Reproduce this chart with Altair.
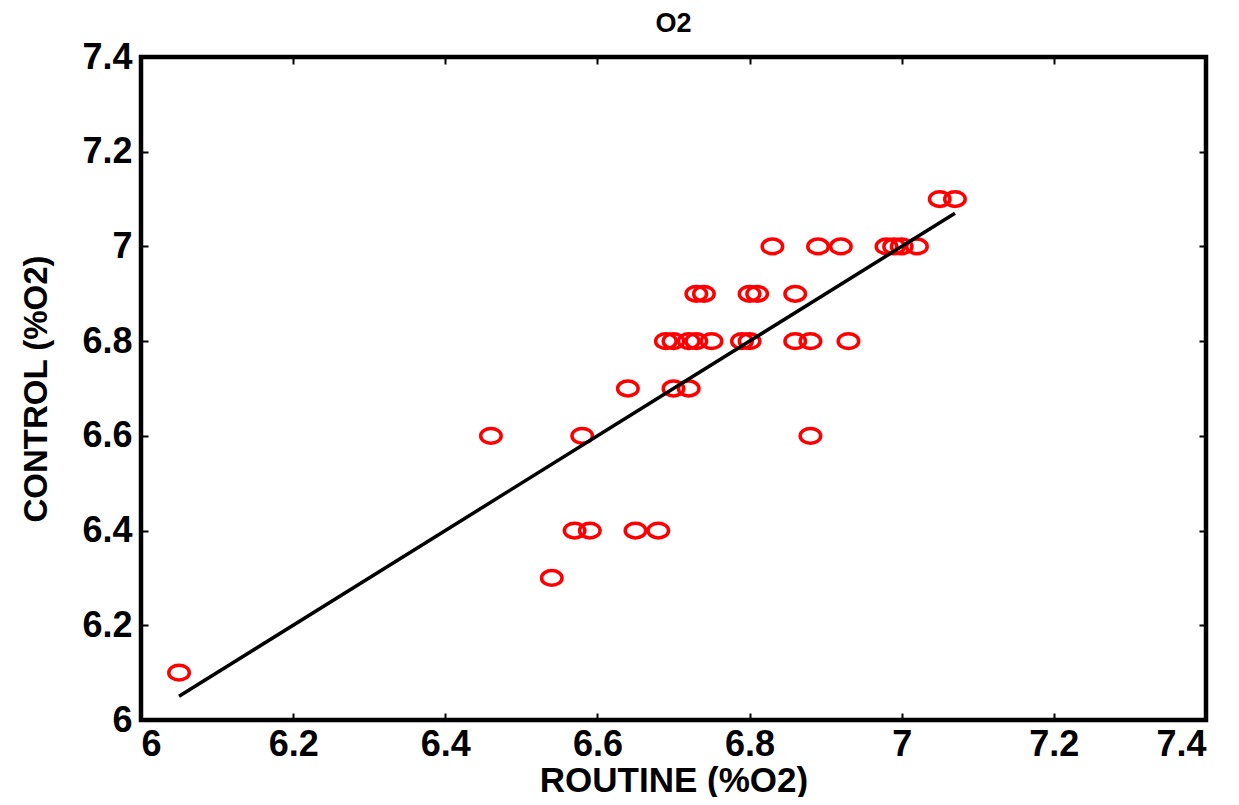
import altair as alt
import pandas as pd

# Data
routine = [6.05,
           6.46, 6.58, 6.88,
           6.54,
           6.57, 6.59, 6.65, 6.68,
           6.64, 6.70, 6.72,
           6.69, 6.70, 6.72, 6.73, 6.75, 6.79, 6.80, 6.86, 6.88, 6.93,
           6.73, 6.74, 6.80, 6.81, 6.86,
           6.83, 6.89, 6.92, 6.98, 6.99, 7.00, 7.02,
           7.05, 7.07]
control = [6.1,
           6.6, 6.6, 6.6,
           6.3,
           6.4, 6.4, 6.4, 6.4,
           6.7, 6.7, 6.7,
           6.8, 6.8, 6.8, 6.8, 6.8, 6.8, 6.8, 6.8, 6.8, 6.8,
           6.9, 6.9, 6.9, 6.9, 6.9,
           7.0, 7.0, 7.0, 7.0, 7.0, 7.0, 7.0,
           7.1, 7.1]
fit_x = [6.05, 7.07]
fit_y = [6.05, 7.07]
tick_vals = [6.0, 6.2, 6.4, 6.6, 6.8, 7.0, 7.2, 7.4]

pts = pd.DataFrame({"routine": routine, "control": control})
fit = pd.DataFrame({"x": fit_x, "y": fit_y})

FONT = "Liberation Sans"
xs = alt.Scale(domain=[6, 7.4], nice=False, zero=False)
ys = alt.Scale(domain=[6, 7.4], nice=False, zero=False)

common = dict(offset=-7, tickSize=7, tickWidth=2, tickColor="black", domain=False,
              grid=False, values=tick_vals, format="~g")

bottom_axis = alt.Axis(orient="bottom", title="ROUTINE (%O2)", labelFont=FONT,
                       labelFontSize=36, labelFontWeight="bold", labelColor="black",
                       labelPadding=7, titleFont=FONT, titleFontSize=35,
                       titleFontWeight="bold", titleColor="black", titlePadding=1,
                       **common)
left_axis = alt.Axis(orient="left", title="CONTROL (%O2)", labelFont=FONT,
                     labelFontSize=36, labelFontWeight="bold", labelColor="black",
                     labelPadding=9, titleFont=FONT, titleFontSize=33,
                     titleFontWeight="bold", titleColor="black", titlePadding=28,
                     **common)
top_axis = alt.Axis(orient="top", title=None, labels=False, **common)
right_axis = alt.Axis(orient="right", title=None, labels=False, **common)

ellipse = "M-1,0 A1,0.72 0 1,1 1,0 A1,0.72 0 1,1 -1,0 Z"

points = alt.Chart(pts).mark_point(
    shape=ellipse, size=420, strokeWidth=3.5, color="red", filled=False, opacity=1
).encode(
    x=alt.X("routine:Q", scale=xs, axis=bottom_axis),
    y=alt.Y("control:Q", scale=ys, axis=left_axis),
)

line = alt.Chart(fit).mark_line(color="black", strokeWidth=3.5).encode(
    x=alt.X("x:Q", scale=xs, axis=top_axis),
    y=alt.Y("y:Q", scale=ys, axis=right_axis),
)

chart = alt.layer(points, line).resolve_axis(
    x="independent", y="independent"
).properties(
    width=1065,
    height=663,
    background="white",
    autosize=alt.AutoSizeParams(type="none"),
    padding={"left": 133, "top": 49, "right": 25, "bottom": 77},
    title=alt.Title("O2", font=FONT, fontSize=27, fontWeight="bold", color="black",
                    anchor="middle", offset=1),
).configure_view(
    stroke="black", strokeWidth=4.5
)

chart.save("out.html", embed_options={"renderer": "svg", "actions": False})
